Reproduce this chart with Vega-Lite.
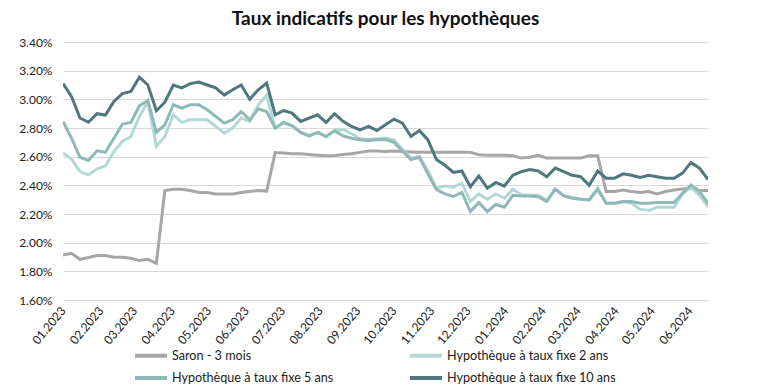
{
  "$schema": "https://vega.github.io/schema/vega-lite/v6.json",
  "width": 645,
  "height": 258,
  "autosize": {"type": "none"},
  "padding": {"left": 63, "top": 42, "right": 52, "bottom": 91},
  "background": "white",
  "title": {"text": "Taux indicatifs pour les hypothèques", "font": "Lato", "fontSize": 19, "fontWeight": "bold", "color": "#111111", "anchor": "middle", "offset": 7},
  "config": {
    "view": {"stroke": null},
    "font": "Lato",
    "axis": {"labelFont": "Lato", "labelColor": "#222222", "labelFontSize": 12, "ticks": false, "domain": false, "title": null}
  },
  "data": {"values": [
{"date":"2023/01/01","S":1.914,"T":2.625,"F":2.846,"D":3.11},
{"date":"2023/01/08","S":1.926,"T":2.583,"F":2.729,"D":3.02},
{"date":"2023/01/15","S":1.884,"T":2.496,"F":2.596,"D":2.87},
{"date":"2023/01/22","S":1.896,"T":2.473,"F":2.573,"D":2.84},
{"date":"2023/01/29","S":1.91,"T":2.515,"F":2.641,"D":2.90},
{"date":"2023/02/05","S":1.91,"T":2.536,"F":2.631,"D":2.89},
{"date":"2023/02/12","S":1.898,"T":2.636,"F":2.729,"D":2.985},
{"date":"2023/02/19","S":1.898,"T":2.706,"F":2.827,"D":3.04},
{"date":"2023/02/26","S":1.891,"T":2.741,"F":2.839,"D":3.055},
{"date":"2023/03/05","S":1.875,"T":2.88,"F":2.955,"D":3.155},
{"date":"2023/03/12","S":1.884,"T":2.985,"F":2.992,"D":3.10},
{"date":"2023/03/19","S":1.856,"T":2.671,"F":2.769,"D":2.92},
{"date":"2023/03/26","S":2.364,"T":2.741,"F":2.822,"D":2.98},
{"date":"2023/04/02","S":2.373,"T":2.892,"F":2.962,"D":3.10},
{"date":"2023/04/09","S":2.373,"T":2.839,"F":2.939,"D":3.08},
{"date":"2023/04/16","S":2.364,"T":2.857,"F":2.962,"D":3.11},
{"date":"2023/04/23","S":2.35,"T":2.857,"F":2.962,"D":3.12},
{"date":"2023/04/30","S":2.35,"T":2.857,"F":2.927,"D":3.10},
{"date":"2023/05/07","S":2.34,"T":2.811,"F":2.88,"D":3.08},
{"date":"2023/05/14","S":2.34,"T":2.764,"F":2.834,"D":3.03},
{"date":"2023/05/21","S":2.34,"T":2.80,"F":2.857,"D":3.067},
{"date":"2023/05/28","S":2.35,"T":2.87,"F":2.915,"D":3.10},
{"date":"2023/06/04","S":2.357,"T":2.845,"F":2.857,"D":3.00},
{"date":"2023/06/11","S":2.364,"T":2.96,"F":2.932,"D":3.067},
{"date":"2023/06/18","S":2.36,"T":3.03,"F":2.915,"D":3.114},
{"date":"2023/06/25","S":2.629,"T":2.799,"F":2.799,"D":2.892},
{"date":"2023/07/02","S":2.626,"T":2.839,"F":2.839,"D":2.922},
{"date":"2023/07/09","S":2.62,"T":2.815,"F":2.815,"D":2.904},
{"date":"2023/07/16","S":2.62,"T":2.769,"F":2.769,"D":2.846},
{"date":"2023/07/23","S":2.615,"T":2.745,"F":2.745,"D":2.869},
{"date":"2023/07/30","S":2.61,"T":2.769,"F":2.769,"D":2.892},
{"date":"2023/08/06","S":2.606,"T":2.741,"F":2.741,"D":2.839},
{"date":"2023/08/13","S":2.608,"T":2.78,"F":2.78,"D":2.899},
{"date":"2023/08/20","S":2.615,"T":2.79,"F":2.745,"D":2.846},
{"date":"2023/08/27","S":2.62,"T":2.76,"F":2.729,"D":2.811},
{"date":"2023/09/03","S":2.63,"T":2.725,"F":2.718,"D":2.787},
{"date":"2023/09/10","S":2.64,"T":2.72,"F":2.713,"D":2.811},
{"date":"2023/09/17","S":2.64,"T":2.725,"F":2.718,"D":2.783},
{"date":"2023/09/24","S":2.636,"T":2.73,"F":2.72,"D":2.822},
{"date":"2023/10/01","S":2.64,"T":2.718,"F":2.70,"D":2.862},
{"date":"2023/10/08","S":2.636,"T":2.65,"F":2.64,"D":2.834},
{"date":"2023/10/15","S":2.633,"T":2.59,"F":2.58,"D":2.741},
{"date":"2023/10/22","S":2.63,"T":2.60,"F":2.595,"D":2.783},
{"date":"2023/10/29","S":2.63,"T":2.50,"F":2.48,"D":2.717},
{"date":"2023/11/05","S":2.63,"T":2.38,"F":2.37,"D":2.58},
{"date":"2023/11/12","S":2.63,"T":2.396,"F":2.34,"D":2.54},
{"date":"2023/11/19","S":2.63,"T":2.387,"F":2.322,"D":2.49},
{"date":"2023/11/26","S":2.63,"T":2.415,"F":2.35,"D":2.50},
{"date":"2023/12/03","S":2.63,"T":2.287,"F":2.217,"D":2.39},
{"date":"2023/12/10","S":2.613,"T":2.34,"F":2.28,"D":2.465},
{"date":"2023/12/17","S":2.61,"T":2.303,"F":2.217,"D":2.38},
{"date":"2023/12/24","S":2.61,"T":2.34,"F":2.268,"D":2.42},
{"date":"2023/12/31","S":2.61,"T":2.31,"F":2.247,"D":2.395},
{"date":"2024/01/07","S":2.606,"T":2.373,"F":2.33,"D":2.47},
{"date":"2024/01/14","S":2.59,"T":2.335,"F":2.326,"D":2.495},
{"date":"2024/01/21","S":2.596,"T":2.33,"F":2.326,"D":2.51},
{"date":"2024/01/28","S":2.61,"T":2.33,"F":2.32,"D":2.50},
{"date":"2024/02/04","S":2.59,"T":2.295,"F":2.287,"D":2.46},
{"date":"2024/02/11","S":2.59,"T":2.375,"F":2.373,"D":2.52},
{"date":"2024/02/18","S":2.59,"T":2.33,"F":2.326,"D":2.495},
{"date":"2024/02/25","S":2.59,"T":2.315,"F":2.31,"D":2.47},
{"date":"2024/03/03","S":2.59,"T":2.305,"F":2.303,"D":2.46},
{"date":"2024/03/10","S":2.606,"T":2.30,"F":2.298,"D":2.40},
{"date":"2024/03/17","S":2.606,"T":2.38,"F":2.373,"D":2.50},
{"date":"2024/03/24","S":2.357,"T":2.275,"F":2.275,"D":2.45},
{"date":"2024/03/31","S":2.357,"T":2.275,"F":2.275,"D":2.45},
{"date":"2024/04/07","S":2.368,"T":2.285,"F":2.287,"D":2.48},
{"date":"2024/04/14","S":2.357,"T":2.275,"F":2.287,"D":2.47},
{"date":"2024/04/21","S":2.35,"T":2.233,"F":2.275,"D":2.455},
{"date":"2024/04/28","S":2.357,"T":2.224,"F":2.275,"D":2.47},
{"date":"2024/05/05","S":2.34,"T":2.247,"F":2.28,"D":2.46},
{"date":"2024/05/12","S":2.357,"T":2.247,"F":2.28,"D":2.45},
{"date":"2024/05/19","S":2.368,"T":2.247,"F":2.28,"D":2.45},
{"date":"2024/05/26","S":2.375,"T":2.34,"F":2.345,"D":2.485},
{"date":"2024/06/02","S":2.38,"T":2.387,"F":2.403,"D":2.56},
{"date":"2024/06/09","S":2.364,"T":2.33,"F":2.356,"D":2.52},
{"date":"2024/06/16","S":2.364,"T":2.25,"F":2.275,"D":2.44}
  ]},
  "transform": [
    {"fold": ["S", "T", "F", "D"], "as": ["key", "rate"]},
    {"lookup": "key", "from": {"data": {"values": [
      {"key": "S", "serie": "Saron - 3 mois", "ord": 1},
      {"key": "T", "serie": "Hypothèque à taux fixe 2 ans", "ord": 2},
      {"key": "F", "serie": "Hypothèque à taux fixe 5 ans", "ord": 3},
      {"key": "D", "serie": "Hypothèque à taux fixe 10 ans", "ord": 4}
    ]}, "key": "key", "fields": ["serie", "ord"]}}
  ],
  "mark": {"type": "line", "strokeWidth": 3, "interpolate": "linear", "clip": true},
  "encoding": {
    "x": {"field": "date", "type": "temporal",
      "axis": {"grid": false, "format": "%m.%Y", "labelAngle": -50, "labelPadding": 8, "labelFlush": false, "labelOverlap": false, "tickCount": {"interval": "month", "step": 1}, "labelFontSize": 12}},
    "y": {"field": "rate", "type": "quantitative",
      "scale": {"domain": [1.6, 3.4], "nice": false, "zero": false},
      "axis": {"values": [1.6, 1.8, 2.0, 2.2, 2.4, 2.6, 2.8, 3.0, 3.2, 3.4], "labelExpr": "format(datum.value, '.2f') + '%'", "grid": true, "gridColor": "#d9d9d9", "gridWidth": 1, "labelPadding": 11}},
    "color": {"field": "serie", "type": "nominal",
      "scale": {"domain": ["Saron - 3 mois", "Hypothèque à taux fixe 2 ans", "Hypothèque à taux fixe 5 ans", "Hypothèque à taux fixe 10 ans"],
                "range": ["#a6a6a6", "#b4d8d7", "#8fb9b7", "#4e787d"]},
      "legend": {"title": null, "orient": "none", "legendX": 70, "legendY": 304, "columns": 2, "direction": "horizontal",
        "symbolType": "M-1,0L3.27,0", "symbolStrokeWidth": 4, "symbolSize": 225, "labelFont": "Lato", "labelFontSize": 12.6, "labelColor": "#222222",
        "labelOffset": 20, "columnPadding": 68, "rowPadding": 4.4, "labelLimit": 300}},
    "order": {"field": "date", "type": "temporal"}
  }
}
